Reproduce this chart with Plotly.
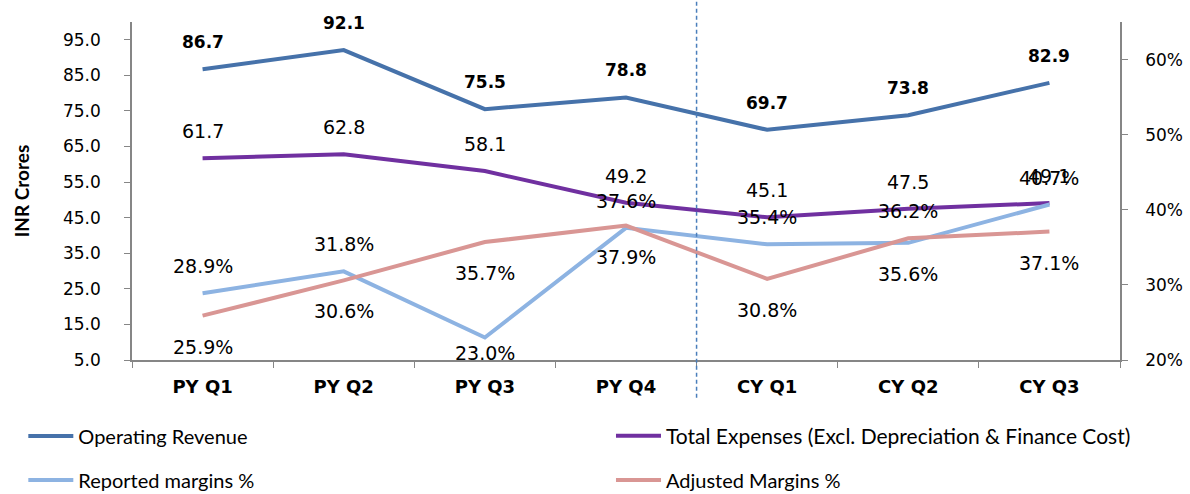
import plotly.graph_objects as go

categories = ["PY Q1", "PY Q2", "PY Q3", "PY Q4", "CY Q1", "CY Q2", "CY Q3"]
operating_revenue = [86.7, 92.1, 75.5, 78.8, 69.7, 73.8, 82.9]
total_expenses = [61.7, 62.8, 58.1, 49.2, 45.1, 47.5, 49.1]
reported_margins = [28.9, 31.8, 23.0, 37.6, 35.4, 35.6, 40.7]
adjusted_margins = [25.9, 30.6, 35.7, 37.9, 30.8, 36.2, 37.1]

left_ticks = [5, 15, 25, 35, 45, 55, 65, 75, 85, 95]
right_ticks = [0.2, 0.3, 0.4, 0.5, 0.6]

# label placement styles (not data)
rev_pos = ["above"] * 7
exp_pos = ["above"] * 7
rep_pos = ["above", "above", "below_in", "above", "above", "below", "above"]
adj_pos = ["below", "below", "below", "below", "below", "above", "below"]
SHIFTS = {"above": 27, "below": -31, "below_in": -16}

C_REV = "#4672aa"
C_EXP = "#7030a0"
C_REP = "#8db3e2"
C_ADJ = "#d99694"

NUM_FONT = "DejaVu Sans"
LEG_FONT = "Lato"

fig = go.Figure()

fig.add_trace(go.Scatter(x=categories, y=operating_revenue, mode="lines",
                         name="Operating Revenue", line=dict(color=C_REV, width=4),
                         legend="legend", hoverinfo="skip"))
fig.add_trace(go.Scatter(x=categories, y=total_expenses, mode="lines",
                         name="Total Expenses (Excl. Depreciation & Finance Cost)",
                         line=dict(color=C_EXP, width=4), legend="legend2", hoverinfo="skip"))
fig.add_trace(go.Scatter(x=categories, y=[v / 100 for v in reported_margins], mode="lines",
                         name="Reported margins %", line=dict(color=C_REP, width=4),
                         yaxis="y2", legend="legend3", hoverinfo="skip"))
fig.add_trace(go.Scatter(x=categories, y=[v / 100 for v in adjusted_margins], mode="lines",
                         name="Adjusted Margins %", line=dict(color=C_ADJ, width=4),
                         yaxis="y2", legend="legend4", hoverinfo="skip"))

annotations = []
def add_labels(values, positions, yref, fmt, bold, scale=1.0):
    for c, v, p in zip(categories, values, positions):
        txt = fmt.format(v)
        if bold:
            txt = "<b>" + txt + "</b>"
        annotations.append(dict(
            x=c, y=v * scale, xref="x", yref=yref, text=txt, showarrow=False,
            yshift=SHIFTS[p],
            font=dict(family=NUM_FONT, size=17 if bold else 19, color="#000000")))

add_labels(operating_revenue, rev_pos, "y", "{:.1f}", True)
add_labels(total_expenses, exp_pos, "y", "{:.1f}", False)
add_labels(reported_margins, rep_pos, "y2", "{:.1f}%", False, 0.01)
add_labels(adjusted_margins, adj_pos, "y2", "{:.1f}%", False, 0.01)

def leg(x, y, size=20):
    return dict(orientation="h", x=x, xanchor="left", y=y, yanchor="middle",
                itemwidth=45, font=dict(family=LEG_FONT, size=size, color="#000000"),
                bgcolor="rgba(0,0,0,0)")

fig.update_layout(
    width=1190, height=494,
    margin=dict(l=132, r=70, t=22, b=134, autoexpand=False),
    paper_bgcolor="white", plot_bgcolor="white",
    showlegend=True,
    annotations=annotations,
    xaxis=dict(
        type="category", range=[-0.5, 6.5], showgrid=False,
        showline=True, linecolor="#868686", linewidth=1.5,
        ticks="outside", tickson="boundaries", ticklen=6, tickcolor="#868686",
        tickfont=dict(family=NUM_FONT, size=18, color="#000000", weight="bold"),
        ticklabelstandoff=10, fixedrange=True,
    ),
    yaxis=dict(
        range=[5, 100], tickvals=left_ticks, tickformat=".1f", showgrid=False,
        zeroline=False, showline=True, linecolor="#868686", linewidth=1.5,
        ticks="outside", ticklen=6, tickcolor="#868686",
        tickfont=dict(family=NUM_FONT, size=17, color="#000000"),
        ticklabelstandoff=20,
        title=dict(text="<b>INR Crores</b>", font=dict(family=LEG_FONT, size=19, color="#000000"),
                   standoff=28),
        automargin=False,
    ),
    yaxis2=dict(
        overlaying="y", side="right", range=[0.2, 0.65], tickvals=right_ticks,
        tickformat=".0%", showgrid=False, zeroline=False, showline=True,
        linecolor="#868686", linewidth=1.5, ticks="outside", ticklen=6,
        tickcolor="#868686", tickfont=dict(family=NUM_FONT, size=17, color="#000000"),
        ticklabelstandoff=14, automargin=False,
    ),
    legend=leg(-0.110, -0.225),
    legend2=leg(0.4848, -0.225, 21),
    legend3=leg(-0.110, -0.355),
    legend4=leg(0.4848, -0.355),
    shapes=[dict(type="line", xref="x", yref="paper", x0=3.5, x1=3.5,
                 y0=-0.112, y1=1.065, line=dict(color="#4a7ebb", width=1.5, dash="4px,3px"))],
)

fig.write_html("out.html", config={"displayModeBar": False},
               post_script="document.body.style.margin='0';")
